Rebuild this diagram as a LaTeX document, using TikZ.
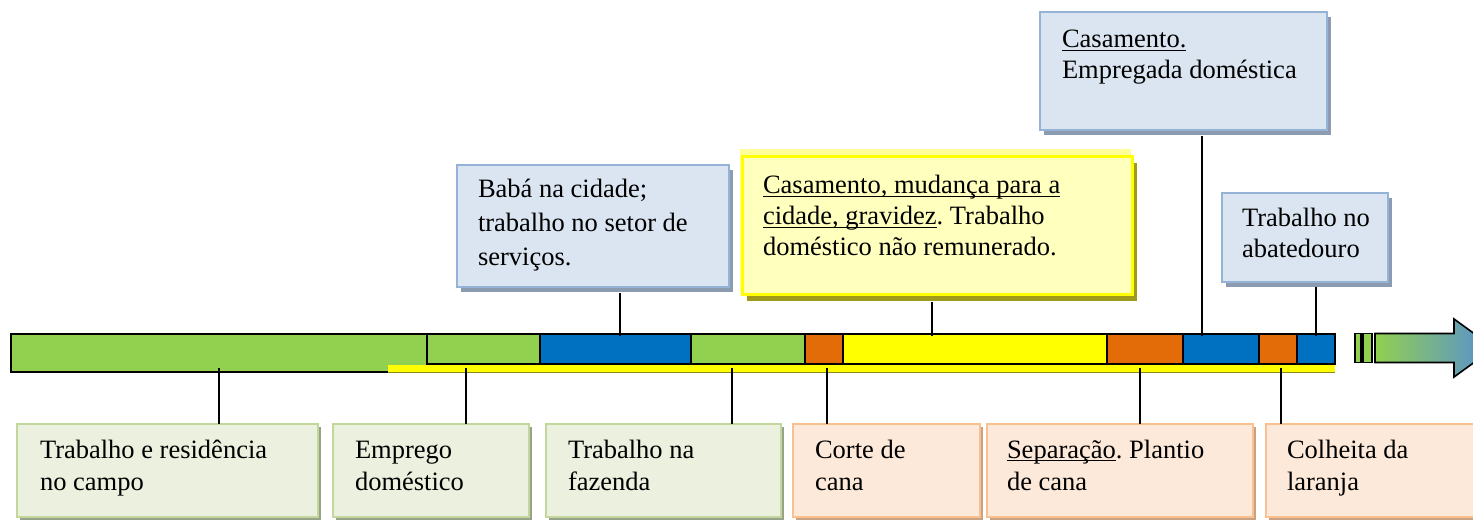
\documentclass[tikz,border=0pt]{standalone}
\usepackage{fontspec}
\setmainfont{Liberation Serif}
\usetikzlibrary{shadows}
\frenchspacing
\newcommand\myul[1]{\setbox0\hbox{#1}\rlap{\rule[-3.2pt]{\wd0}{1.3pt}}\box0}
\definecolor{cgreen}{HTML}{92D050}
\definecolor{cblue}{HTML}{0070C0}
\definecolor{corange}{HTML}{E36C09}
\definecolor{cyellow}{HTML}{FFFF00}
\definecolor{arrowblue}{HTML}{558ED5}
\definecolor{bfill}{HTML}{DBE5F1}
\definecolor{bline}{HTML}{95B3D7}
\definecolor{bshadow}{HTML}{8D9BB0}
\definecolor{yfill}{HTML}{FFFFBE}
\definecolor{yglow}{HTML}{FFFF99}
\definecolor{yshadow}{HTML}{A09A1C}
\definecolor{gfill}{HTML}{EBF1DE}
\definecolor{gline}{HTML}{C3D69B}
\definecolor{gshadow}{HTML}{98A28A}
\definecolor{ofill}{HTML}{FDE9D9}
\definecolor{oline}{HTML}{FAC090}
\definecolor{oshadow}{HTML}{C9A283}
\definecolor{stripline}{HTML}{8A8A20}
\begin{document}
\begin{tikzpicture}[x=1pt,y=-1pt,
  every node/.style={inner sep=0pt,outer sep=0pt},
  boxbase/.style={anchor=north west,line width=2pt},
  bluebox/.style={boxbase,draw=bline,fill=bfill,general shadow={fill=bshadow,shadow xshift=4pt,shadow yshift=-5pt}},
  yelbox/.style={boxbase,draw=cyellow,line width=3pt,fill=yfill,general shadow={fill=yshadow,shadow xshift=5pt,shadow yshift=-6pt}},
  grnbox/.style={boxbase,draw=gline,fill=gfill,general shadow={fill=gshadow,shadow xshift=3pt,shadow yshift=-3pt}},
  orgbox/.style={boxbase,draw=oline,fill=ofill,general shadow={fill=oshadow,shadow xshift=3pt,shadow yshift=-3pt}},
  seg/.style={anchor=north west,draw=black,line width=1.6pt,minimum height=30pt},
  txt/.style={anchor=base west,font=\fontsize{26.5}{32}\selectfont},
  conn/.style={draw=black,line width=1.4pt},
  smallbar/.style={draw=black,line width=1.6pt,fill=cgreen}]
\useasboundingbox (0,0) rectangle (1473,526);
\fill[white] (0,0) rectangle (1473,526);
% connector x positions
\coordinate (c1) at (620,0);
\coordinate (c2) at (932,0);
\coordinate (c3) at (1202,0);
\coordinate (c4) at (1316,0);
\coordinate (d1) at (219,0);
\coordinate (d2) at (466,0);
\coordinate (d3) at (732,0);
\coordinate (d4) at (827,0);
\coordinate (d5) at (1140,0);
\coordinate (d6) at (1281,0);
% timeline bar
\draw[black,line width=1.6pt,fill=cgreen] (11,334) rectangle (427,372);
\node[seg,fill=cgreen,minimum width=113pt] (s2) at (427,334) {};
\node[seg,fill=cblue,minimum width=151pt] (s3) at (540,334) {};
\node[seg,fill=cgreen,minimum width=114pt] (s4) at (691,334) {};
\node[seg,fill=corange,minimum width=38pt] (s5) at (805,334) {};
\node[seg,fill=cyellow,minimum width=264pt] (s6) at (843,334) {};
\node[seg,fill=corange,minimum width=76pt] (s7) at (1107,334) {};
\node[seg,fill=cblue,minimum width=76pt] (s8) at (1183,334) {};
\node[seg,fill=corange,minimum width=38pt] (s9) at (1259,334) {};
\node[seg,fill=cblue,minimum width=38pt] (s10) at (1297,334) {};
\coordinate (barbot) at (0,368);
\fill[cyellow] (388,364.8) rectangle (1335,372);
\draw[stripline,line width=1.2pt] (388,372.4) -- (1335,372.4);
% arrow
\node[smallbar,anchor=north west,minimum width=6pt,minimum height=29pt] (m1) at (1355,333.5) {};
\node[smallbar,anchor=north west,minimum width=9pt,minimum height=29pt] (m2) at (1363,333.5) {};
\begin{scope}
\clip (0,0) rectangle (1473,526);
\shade[left color=cgreen,right color=arrowblue] (1375,333.5) -- (1454,333.5) -- (1454,319) -- (1494,348) -- (1454,377) -- (1454,362.5) -- (1375,362.5) -- cycle;
\draw[black,line width=1.6pt,line join=miter] (1375,333.5) -- (1454,333.5) -- (1454,319) -- (1494,348) -- (1454,377) -- (1454,362.5) -- (1375,362.5) -- cycle;
\end{scope}
% top boxes
\fill[yglow] (740,149) rectangle (1131,292);
\node[bluebox,minimum width=272pt,minimum height=122pt] (T1) at (457,165) {};
\node[yelbox,minimum width=390pt,minimum height=138pt] (T2) at (742,157) {};
\node[bluebox,minimum width=287pt,minimum height=118pt] (T3) at (1040,12) {};
\node[bluebox,minimum width=166pt,minimum height=89pt] (T4) at (1222,193) {};
% bottom boxes
\begin{scope}
\clip (0,0) rectangle (1473,526);
\node[grnbox,minimum width=301pt,minimum height=93pt] (B1) at (17,424) {};
\node[grnbox,minimum width=196pt,minimum height=93pt] (B2) at (333,424) {};
\node[grnbox,minimum width=235pt,minimum height=93pt] (B3) at (546,424) {};
\node[orgbox,minimum width=187pt,minimum height=93pt] (B4) at (793,424) {};
\node[orgbox,minimum width=266pt,minimum height=93pt] (B5) at (987,424) {};
\node[orgbox,minimum width=224pt,minimum height=93pt] (B6) at (1266,424) {};
\end{scope}
% connectors
\draw[conn] ([yshift=-6pt]T1.south -| c1) -- ([yshift=-2pt]s3.north -| c1);
\draw[conn] ([yshift=-7pt]T2.south -| c2) -- ([yshift=-2pt]s6.north -| c2);
\draw[conn] ([yshift=-6pt]T3.south -| c3) -- ([yshift=-2pt]s8.north -| c3);
\draw[conn] ([yshift=-5pt]T4.south -| c4) -- ([yshift=-2pt]s10.north -| c4);
\draw[conn] (barbot -| d1) -- (B1.north -| d1);
\draw[conn] (barbot -| d2) -- (B2.north -| d2);
\draw[conn] (barbot -| d3) -- (B3.north -| d3);
\draw[conn] (barbot -| d4) -- (B4.north -| d4);
\draw[conn] (barbot -| d5) -- (B5.north -| d5);
\draw[conn] (barbot -| d6) -- (B6.north -| d6);
% texts
\node[txt] (t1a) at (478,198) {Babá na cidade;};
\node[txt] (t1b) at (478,232) {trabalho no setor de};
\node[txt] (t1c) at (478,266) {serviços.};
\node[txt] (t2a) at (763,194) {\myul{Casamento, mudança para a}};
\node[txt] (t2b) at (763,225) {\myul{cidade, gravidez}. Trabalho};
\node[txt] (t2c) at (763,256) {doméstico não remunerado.};
\node[txt] (t3a) at (1062,48) {\myul{Casamento.}};
\node[txt] (t3b) at (1062,79) {Empregada doméstica};
\node[txt] (t4a) at (1242,227) {Trabalho no};
\node[txt] (t4b) at (1242,258) {abatedouro};
\node[txt] (b1a) at (40,458) {Trabalho e residência};
\node[txt] (b1b) at (40,490) {no campo};
\node[txt] (b2a) at (355,458) {Emprego};
\node[txt] (b2b) at (355,490) {doméstico};
\node[txt] (b3a) at (568,458) {Trabalho na};
\node[txt] (b3b) at (568,490) {fazenda};
\node[txt] (b4a) at (815,458) {Corte de};
\node[txt] (b4b) at (815,490) {cana};
\node[txt] (b5a) at (1007,458) {\myul{Separação}. Plantio};
\node[txt] (b5b) at (1007,490) {de cana};
\node[txt] (b6a) at (1287,458) {Colheita da};
\node[txt] (b6b) at (1287,490) {laranja};
\end{tikzpicture}
\end{document}
